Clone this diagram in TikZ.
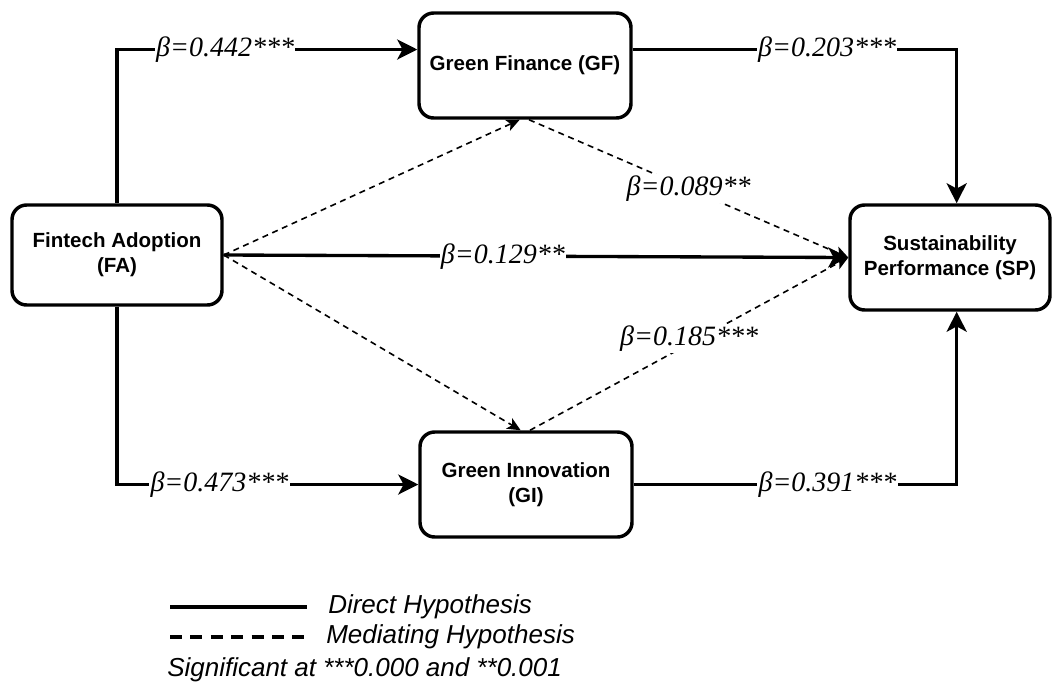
\documentclass[tikz,border=0pt]{standalone}
\usepackage{fontspec}
\setmainfont{Liberation Sans}
\newfontfamily\coeffont{Liberation Serif}
\usetikzlibrary{arrows.meta,calc}

\begin{document}
\begin{tikzpicture}[x=0.75pt,y=-0.75pt,
  box/.style={draw, line width=2.6pt, rounded corners=11pt, minimum width=159pt,
    minimum height=78.75pt, align=center, inner sep=0pt,
    font=\bfseries\fontsize{15.4}{18.8}\selectfont},
  direct/.style={line width=2.5pt, -{Stealth[length=15pt,width=15pt,inset=4pt]}},
  mediating/.style={line width=1.2pt, dash pattern=on 4.5pt off 3.5pt,
    -{Stealth[length=10pt,width=9pt,inset=2.5pt]}},
  coef/.style={fill=white, inner sep=1pt, font=\coeffont\itshape\fontsize{21}{24}\selectfont},
  legend/.style={anchor=west, inner sep=0pt, font=\itshape\fontsize{19.5}{22}\selectfont}
]
\useasboundingbox (0,0) rectangle (1054,690);

% constructs
\node[box, minimum width=157.5pt, minimum height=75pt] (FA) at (117,255) {Fintech Adoption\\(FA)};
\node[box] (GF) at (525,65.5) {Green Finance (GF)};
\node[box] (GI) at (526,484.5) {Green Innovation\\(GI)};
\node[box, minimum width=150pt] (SP) at (950,257.5) {Sustainability\\Performance (SP)};

% ports for the orthogonal paths
\coordinate (gfin) at ([yshift=12pt]GF.west);
\coordinate (gfout) at ([yshift=12pt]GF.east);
\coordinate (sptop) at ([xshift=5pt]SP.north);
\coordinate (spbot) at ([xshift=5pt]SP.south);

% mediating paths
\draw[mediating] (FA.east) -- ([xshift=-4pt]GF.south);
\draw[mediating] ([xshift=3pt]GF.south) -- node[coef]{β=0.089**} (SP.west);
\draw[mediating] (FA.east) -- ([xshift=-4pt]GI.north);
\draw[mediating] ([xshift=3pt]GI.north) -- node[coef, yshift=4pt]{β=0.185***} (SP.west);

% direct paths
\draw[direct] (FA.north) |- node[coef, pos=0.68]{β=0.442***} (gfin);
\draw[direct] (gfout) -| node[coef, pos=0.3]{β=0.203***} (sptop);
\draw[direct] (FA.south) |- node[coef, pos=0.67]{β=0.473***} (GI.west);
\draw[direct] (GI.east) -| node[coef, pos=0.3]{β=0.391***} (spbot);
\draw[direct] (FA.east) -- node[coef, pos=0.447]{β=0.129**} (SP.west);

% legend
\coordinate (d1) at (170,607);
\coordinate (d2) at (307,607);
\draw[line width=2.6pt] (d1) -- (d2);
\node[legend] (dl) at (328,607) {Direct Hypothesis};
\coordinate (m1) at (170,637);
\coordinate (m2) at (305,637);
\draw[line width=2.6pt, dash pattern=on 9pt off 6.3pt] (m1) -- (m2);
\node[legend] (ml) at (326,637) {Mediating Hypothesis};
\node[legend] (sig) at (167,670) {Significant at ***0.000 and **0.001};
\end{tikzpicture}
\end{document}
